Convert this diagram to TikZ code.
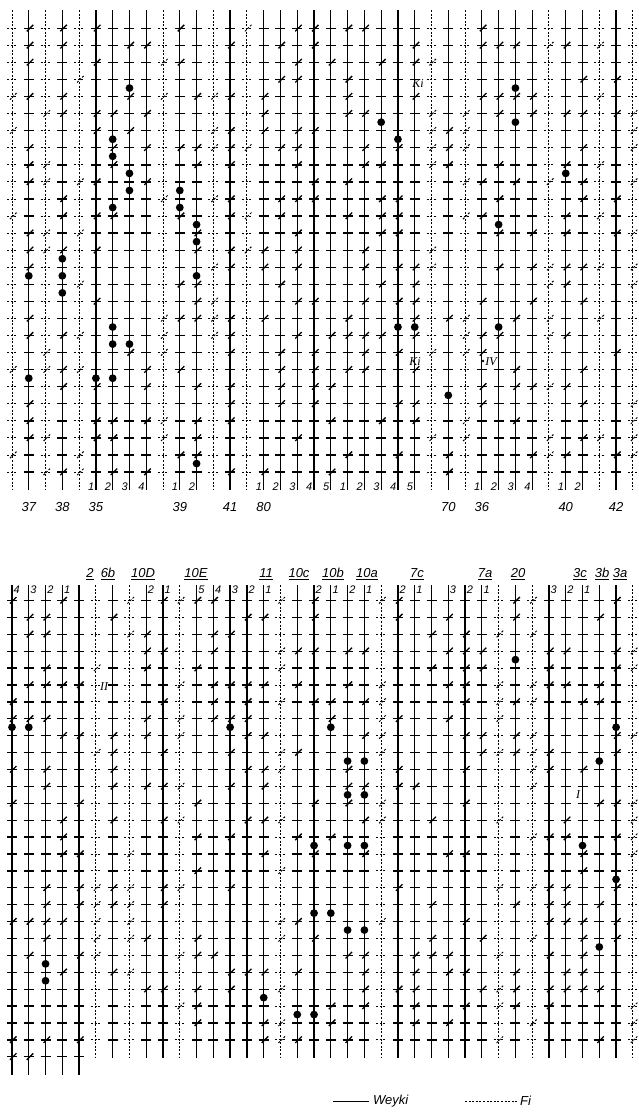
\documentclass[tikz,border=0pt]{standalone}
\usepackage{fontspec}
\setmainfont{Liberation Sans}
\newfontfamily\romfont{Liberation Serif}
\begin{document}
\begin{tikzpicture}[x=1pt, y=-1pt,
  weyki/.style={line width=1.3pt},
  fi/.style={line width=1pt, dash pattern=on 2pt off 1.6pt},
  spot/.style={fill=black, draw=none},
  num/.style={font=\fontsize{11}{11}\selectfont\itshape, inner sep=0pt},
  grp/.style={font=\fontsize{13}{13}\selectfont\itshape, inner sep=0pt},
  mark lbl/.style={font=\fontsize{12}{12}\selectfont\romfont\itshape, inner sep=0pt}
]
\useasboundingbox (0,0) rectangle (639,1114);
\pgfmathsetseed{11}

% obere Tafel
\foreach \kind [count=\i from 0] in {fi,weyki,fi,weyki,fi,weyki,weyki,weyki,weyki,fi,weyki,weyki,fi,weyki,fi,weyki,weyki,weyki,weyki,weyki,weyki,weyki,weyki,weyki,weyki,fi,weyki,fi,weyki,weyki,weyki,weyki,fi,weyki,weyki,fi,weyki,fi} {
  \pgfmathsetmacro\cx{12+16.78*\i}
  \draw[\kind] (\cx,10) -- (\cx,490);
  \foreach \k in {0,...,26} {
    \pgfmathsetmacro\ry{28.3+17.07*\k}
    \draw[\kind] (\cx-5,\ry) -- (\cx+5,\ry);
    \pgfmathtruncatemacro\hit{rnd<0.3}
    \ifnum\hit=1 \draw[\kind] (\cx-2,\ry+3) -- (\cx+4.5,\ry-3.5); \fi
  }
}

% untere Tafel
\foreach \kind [count=\i from 0] in {weyki,weyki,weyki,weyki,weyki,fi,weyki,fi,weyki,weyki,fi,weyki,weyki,weyki,weyki,weyki,fi,weyki,weyki,weyki,weyki,weyki,fi,weyki,weyki,weyki,weyki,weyki,weyki,fi,weyki,fi,weyki,weyki,weyki,weyki,weyki,fi} {
  \pgfmathsetmacro\cx{12+16.78*\i}
  \pgfmathtruncatemacro\last{\i<5 ? 27 : 26}
  \pgfmathsetmacro\bot{\i<5 ? 1075 : 1058}
  \draw[\kind] (\cx,585) -- (\cx,\bot);
  \foreach \k in {0,...,\last} {
    \pgfmathsetmacro\ry{600.5+16.9*\k}
    \draw[\kind] (\cx-5,\ry) -- (\cx+5,\ry);
    \pgfmathtruncatemacro\hit{rnd<0.33}
    \ifnum\hit=1 \draw[\kind] (\cx-2,\ry+3) -- (\cx+4.5,\ry-3.5); \fi
  }
}

% Punkte
\foreach \c/\k in {7/3,23/6,22/5,6/6,6/7,6/10,7/8,7/9,10/9,10/10,11/11,11/12,11/14,11/25,3/13,3/14,3/15,1/14,1/20,6/17,6/18,6/20,7/18,5/20,23/17,24/17,26/21,29/11,29/17,30/3,30/5,33/8}
  \fill[spot] ({12+16.78*\c},{28.3+17.07*(\k+0.5)}) circle (3.9);
\foreach \c/\k in {0/7,1/7,13/7,19/7,20/9,21/9,20/11,21/11,18/14,20/14,21/14,34/14,18/18,19/18,20/19,21/19,35/20,2/21,2/22,15/23,17/24,18/24,30/3,36/7,35/9,36/16}
  \fill[spot] ({12+16.78*\c},{600.5+16.9*(\k+0.5)}) circle (3.9);

% Nummern oben
\foreach \c/\n in {5/1,6/2,7/3,8/4,10/1,11/2,15/1,16/2,17/3,18/4,19/5,20/1,21/2,22/3,23/4,24/5,28/1,29/2,30/3,31/4,33/1,34/2}
  \node[num, anchor=east] (tn-\c) at ({12+16.78*\c-1.5},487) {\n};
\foreach \c/\n in {1/37,3/38,5/35,10/39,13/41,15/80,26/70,28/36,33/40,36/42}
  \node[grp] (tg-\n) at ({12+16.78*\c},507) {\n};

% Nummern unten
\foreach \c/\n in {0/4,1/3,2/2,3/1,8/2,9/1,11/5,12/4,13/3,14/2,15/1,18/2,19/1,20/2,21/1,23/2,24/1,26/3,27/2,28/1,32/3,33/2,34/1}
  \node[num, anchor=west] (bn-\c) at ({12+16.78*\c+1.5},590) {\n};
\foreach \x/\n in {90/2,108/6b,143/10D,196/10E,266/11,299/10c,333/10b,367/10a,417/7c,485/7a,518/20,580/3c,602/3b,620/3a}
  \node[grp] (bg-\n) at (\x,574) {\underline{\n}};

% Zeichen
\node[mark lbl] (ki1) at (418,84) {Ki};
\node[mark lbl] (ki2) at (415,362) {Ki};
\fill[spot] (483,361) circle (1.3);
\node[mark lbl] (iv) at (491,362) {IV};
\node[mark lbl] (ii) at (104,687) {II};
\node[mark lbl] (i1) at (578,795) {I};

% Legende
\node[grp, anchor=west] (leg-w) at (373,1101) {Weyki};
\node[grp, anchor=west] (leg-f) at (520,1101) {Fi};
\draw[weyki, line width=0.8pt] ([xshift=-40pt]leg-w.west) -- ([xshift=-4pt]leg-w.west);
\draw[fi] ([xshift=-55pt]leg-f.west) -- ([xshift=-3pt]leg-f.west);

\end{tikzpicture}
\end{document}
